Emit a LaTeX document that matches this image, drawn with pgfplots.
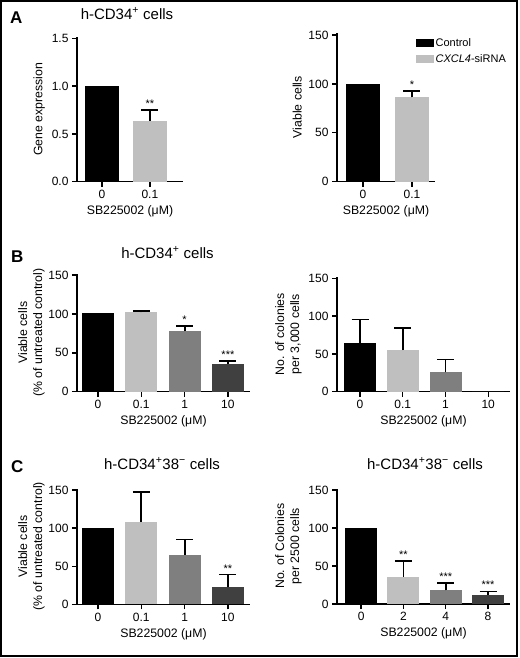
\documentclass[border=0pt]{standalone}
\usepackage{fontspec}
\setmainfont{Liberation Sans}
\usepackage{pgfplots}
\pgfplotsset{compat=1.18}
\definecolor{cA}{HTML}{000000}
\definecolor{cB}{HTML}{BFBFBF}
\definecolor{cC}{HTML}{7F7F7F}
\definecolor{cD}{HTML}{404040}
\pgfplotsset{
 panel/.style={
  scale only axis, anchor=south west,
  axis x line*=bottom, axis y line*=left,
  axis line style={line width=1.4bp, black},
  every tick/.style={line width=1.4bp, black},
  major tick length=5bp, tick align=outside,
  ymin=0, ymax=152, ytick={0,50,100,150},
  xtick={0,1,2,3},
  tick label style={font=\fontsize{12bp}{14bp}\selectfont},
  label style={font=\fontsize{12.3bp}{15bp}\selectfont},
  ylabel style={align=center},
  /pgf/number format/assume math mode=true,
  title style={at={(0.5,1)}, anchor=base, font=\fontsize{15bp}{17bp}\selectfont},
  xlabel={SB225002 (μM)},
  clip=false,
 },
 bbar/.style 2 args={ybar, bar width=#2, bar shift=0pt, fill=#1, draw=none},
 ebar/.style 2 args={ybar, bar width=#2, bar shift=0pt, fill=#1, draw=none,
   error bars/y dir=plus, error bars/y explicit,
   error bars/error bar style={line width=1.8bp, black},
   error bars/error mark options={rotate=90, line width=1.8bp, black, mark size=8.5bp}},
 stars/.style={ybar, bar width=4bp, bar shift=0pt, draw=none, fill=none, forget plot,
   nodes near coords, point meta=explicit symbolic,
   every node near coord/.append style={font=\fontsize{11bp}{12bp}\selectfont, anchor=base, yshift=2.5bp, inner sep=0pt}},
}
\begin{document}
\begin{tikzpicture}
\useasboundingbox (0bp,0bp) rectangle (520bp,-658bp);
\draw[line width=2bp] (1bp,-1bp) rectangle (517bp,-656bp);
\node[anchor=base west, inner sep=0pt, font=\fontsize{17bp}{17bp}\selectfont\bfseries] at (10bp,-23bp) {A};
\node[anchor=base west, inner sep=0pt, font=\fontsize{17bp}{17bp}\selectfont\bfseries] at (11bp,-262bp) {B};
\node[anchor=base west, inner sep=0pt, font=\fontsize{17bp}{17bp}\selectfont\bfseries] at (11bp,-472bp) {C};

% ---- A left
\begin{axis}[panel, at={(77bp,-181.7bp)}, width=106bp, height=145.2bp,
  xmin=-0.52, xmax=1.69, ymax=1.52, ytick={0,0.5,1,1.5},
  yticklabel style={/pgf/number format/.cd, fixed, fixed zerofill, precision=1},
  xtick={0,1}, xticklabels={0,0.1},
  ylabel={Gene expression},
  title={h-CD34\textsuperscript{+} cells}, title style={yshift=11.5bp, xshift=-3bp}]
\addplot[bbar={cA}{34bp}] coordinates {(0,1.0)};
\addplot[ebar={cB}{34bp}] coordinates {(1,0.64) +- (0,0.11)};
\addplot[stars] coordinates {(1,0.75) [**]};
\end{axis}

% ---- A right
\begin{axis}[panel, at={(337bp,-181.7bp)}, width=98bp, height=148.7bp,
  xmin=-0.53, xmax=1.47,
  xtick={0,1}, xticklabels={0,0.1},
  ylabel={Viable cells},
  legend style={at={(0.80,0.98)}, anchor=north west, draw=none, fill=none, inner sep=0pt,
    font=\fontsize{11bp}{12bp}\selectfont, row sep=3bp, nodes={inner sep=2bp}},
  legend cell align=left]
\addplot[bbar={cA}{34bp}, legend image code/.code={\fill[cA] (0bp,-4bp) rectangle (18bp,4bp);}] coordinates {(0,100)};
\addlegendentry{Control}
\addplot[ebar={cB}{34bp}, legend image code/.code={\fill[cB] (0bp,-4bp) rectangle (18bp,4bp);}] coordinates {(1,86.3) +- (0,6.7)};
\addlegendentry{\textit{CXCL4}-siRNA}
\addplot[stars] coordinates {(1,93) [*]};
\end{axis}

% ---- B left
\begin{axis}[panel, at={(77bp,-391.7bp)}, width=173bp, height=118.2bp,
  xmin=-0.485, xmax=3.51,
  xticklabels={0,0.1,1,10},
  ylabel={Viable cells\\(\% of untreated control)}, ylabel shift=-3bp,
  title={h-CD34\textsuperscript{+} cells}, title style={yshift=9.5bp, xshift=4bp}]
\addplot[bbar={cA}{32bp}] coordinates {(0,101)};
\addplot[ebar={cB}{32bp}] coordinates {(1,102) +- (0,1.5)};
\addplot[ebar={cC}{32bp}] coordinates {(2,78) +- (0,6.5)};
\addplot[ebar={cD}{32bp}] coordinates {(3,36) +- (0,3)};
\addplot[stars] coordinates {(2,84.5) [*] (3,39) [***]};
\end{axis}

% ---- B right
\begin{axis}[panel, at={(337bp,-391.7bp)}, width=173bp, height=114.8bp,
  xmin=-0.54, xmax=3.51,
  xticklabels={0,0.1,1,10},
  ylabel={No. of colonies\\per 3,000 cells}]
\addplot[ebar={cA}{32bp}] coordinates {(0,64) +- (0,31.5)};
\addplot[ebar={cB}{32bp}] coordinates {(1,55) +- (0,29.5)};
\addplot[ebar={cC}{32bp}] coordinates {(2,25.5) +- (0,17.2)};
\addplot[bbar={cD}{32bp}] coordinates {(3,0)};
\end{axis}

% ---- C left
\begin{axis}[panel, at={(77bp,-604.3bp)}, width=173bp, height=115.8bp,
  xmin=-0.485, xmax=3.51,
  xticklabels={0,0.1,1,10},
  ylabel={Viable cells\\(\% of untreated control)}, ylabel shift=-3bp,
  title={h-CD34\textsuperscript{+}38\textsuperscript{−} cells}, title style={yshift=13.5bp, xshift=-1.5bp}]
\addplot[bbar={cA}{32bp}] coordinates {(0,100)};
\addplot[ebar={cB}{32bp}] coordinates {(1,108) +- (0,39)};
\addplot[ebar={cC}{32bp}] coordinates {(2,65) +- (0,20)};
\addplot[ebar={cD}{32bp}] coordinates {(3,22.5) +- (0,16.5)};
\addplot[stars] coordinates {(3,39) [**]};
\end{axis}

% ---- C right
\begin{axis}[panel, at={(337bp,-604bp)}, width=173bp, height=115.5bp,
  xmin=-0.57, xmax=3.52,
  xticklabels={0,2,4,8},
  ylabel={No. of Colonies\\per 2500 cells},
  title={h-CD34\textsuperscript{+}38\textsuperscript{−} cells}, title style={yshift=13.5bp, xshift=1.5bp}]
\addplot[bbar={cA}{32bp}] coordinates {(0,100)};
\addplot[ebar={cB}{32bp}] coordinates {(1,36) +- (0,20.5)};
\addplot[ebar={cC}{32bp}] coordinates {(2,18) +- (0,10)};
\addplot[ebar={cD}{32bp}] coordinates {(3,12) +- (0,4.5)};
\addplot[stars] coordinates {(1,56.5) [**] (2,28) [***] (3,16.5) [***]};
\end{axis}
\end{tikzpicture}
\end{document}
